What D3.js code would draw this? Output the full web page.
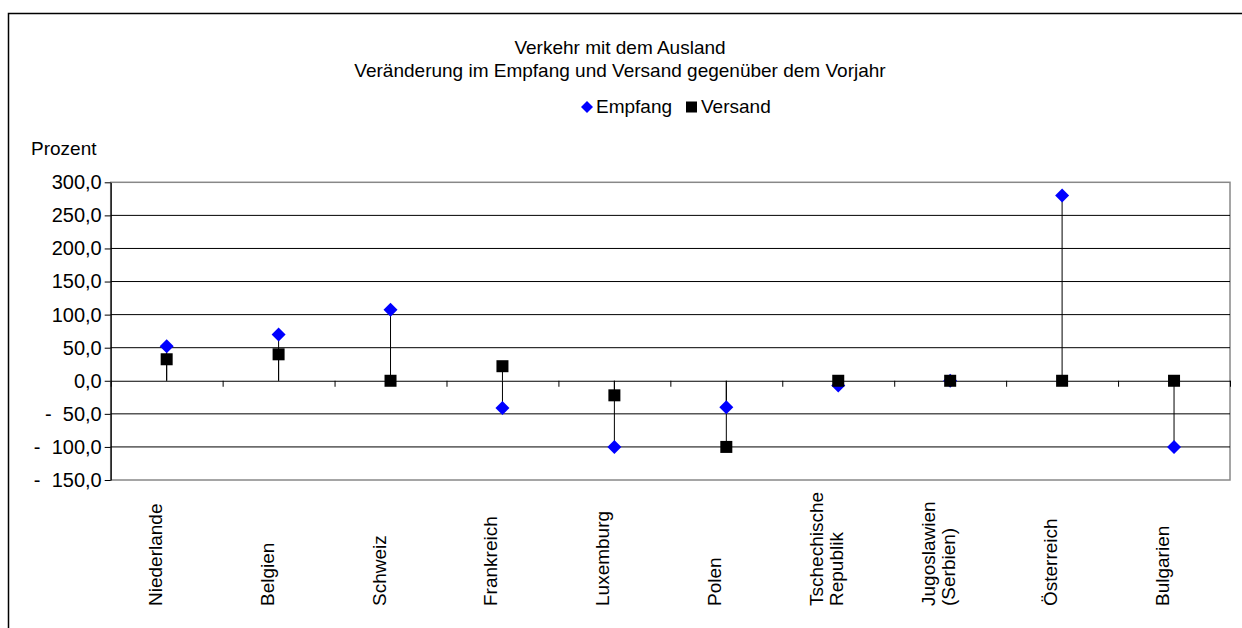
<!DOCTYPE html>
<html>
<head>
<meta charset="utf-8">
<script src="https://cdn.jsdelivr.net/npm/d3@7"></script>
<style>
  html, body { margin: 0; padding: 0; background: #fff; }
  svg { display: block; font-family: "Liberation Sans", Arial, sans-serif; }
</style>
</head>
<body>
<svg id="chart" width="1242" height="628"></svg>
<script>
// ---- data ----
const categories = ["Niederlande", "Belgien", "Schweiz", "Frankreich", "Luxemburg", "Polen",
  "Tschechische\nRepublik", "Jugoslawien\n(Serbien)", "Österreich", "Bulgarien"];
const empfang = [52, 70, 107.5, -41, -100, -40, -7, 0, 280, -100];
const versand = [32.5, 40, 0, 22, -22, -100, 0, 0, 0, 0];
const yTicks = [300, 250, 200, 150, 100, 50, 0, -50, -100, -150];
const seriesNames = ["Empfang", "Versand"];
const titleLines = ["Verkehr mit dem Ausland", "Veränderung im Empfang und Versand gegenüber dem Vorjahr"];
const yAxisTitle = "Prozent";

// ---- layout ----
const svg = d3.select("#chart");
const plot = { left: 110.7, right: 1230, top: 182.3, bottom: 480 };

const x = d3.scaleBand().domain(categories).range([plot.left, plot.right]).padding(0);
const xb = d3.scaleLinear().domain([0, categories.length]).range([plot.left, plot.right]);
const y = d3.scaleLinear().domain([-150, 300]).range([plot.bottom, plot.top]);
const cx = c => x(c) + x.bandwidth() / 2;
const diamond = r => `M0,${-r}L${r},0L0,${r}L${-r},0Z`;

// outer frame
svg.append("rect").attr("x", 8.5).attr("y", 13.5).attr("width", 1260).attr("height", 640)
  .attr("fill", "none").attr("stroke", "#000").attr("stroke-width", 1.5);

// titles
svg.selectAll("text.title").data(titleLines).join("text")
  .attr("class", "title")
  .attr("x", 620).attr("y", (d, i) => 54 + i * 23)
  .attr("text-anchor", "middle").attr("font-size", 19).attr("fill", "#000")
  .text(d => d);

// legend
const legend = svg.append("g");
legend.append("path").attr("d", diamond(6))
  .attr("transform", "translate(587,107)")
  .attr("fill", "#0000ff");
legend.append("text").attr("x", 596).attr("y", 113).attr("font-size", 19).text(seriesNames[0]);
legend.append("rect").attr("x", 686).attr("y", 101.5).attr("width", 11).attr("height", 11).attr("fill", "#000");
legend.append("text").attr("x", 701).attr("y", 113).attr("font-size", 19).text(seriesNames[1]);

// y axis title
svg.append("text").attr("x", 31).attr("y", 155).attr("font-size", 19).text(yAxisTitle);

// plot border
svg.append("rect").attr("x", plot.left).attr("y", plot.top)
  .attr("width", plot.right - plot.left).attr("height", plot.bottom - plot.top)
  .attr("fill", "none").attr("stroke", "#888").attr("stroke-width", 1.5);

// gridlines
svg.append("g").selectAll("line").data(yTicks.filter(v => v !== 300 && v !== -150 && v !== 0)).join("line")
  .attr("x1", plot.left).attr("x2", plot.right)
  .attr("y1", d => y(d)).attr("y2", d => y(d))
  .attr("stroke", "#000").attr("stroke-width", 1);

// y axis
const fmtNum = d3.format(".1f");
const fmt = v => {
  const s = fmtNum(Math.abs(v)).replace(".", ",");
  return v < 0 ? "-\u00a0\u00a0" + s : s;
};
const yAxis = svg.append("g").attr("transform", `translate(${plot.left},0)`)
  .call(d3.axisLeft(y).tickValues(yTicks).tickSize(6).tickSizeOuter(0).tickPadding(3).tickFormat(fmt));
yAxis.select(".domain").attr("stroke", "#000").attr("stroke-width", 1.2);
yAxis.selectAll(".tick line").attr("stroke", "#000");
yAxis.selectAll(".tick text").attr("font-size", 20).attr("font-family", "Liberation Sans, Arial, sans-serif").attr("fill", "#000");

// x axis (category axis crossing at 0)
const xAxis = svg.append("g").attr("transform", `translate(0,${y(0)})`)
  .call(d3.axisBottom(xb).tickValues(d3.range(categories.length + 1)).tickSize(6).tickSizeOuter(0).tickFormat(""));
xAxis.select(".domain").attr("stroke", "#000").attr("stroke-width", 1.2);
xAxis.selectAll(".tick line").attr("stroke", "#000");

// category labels (rotated, reading upward, bottom-aligned)
const labels = svg.append("g").selectAll("text").data(categories).join("text")
  .attr("font-size", 19).attr("fill", "#000")
  .attr("text-anchor", "start")
  .attr("transform", "rotate(-90)");
labels.each(function (d) {
  const lines = d.split("\n");
  const n = lines.length;
  const c = cx(d);
  d3.select(this).selectAll("tspan").data(lines).join("tspan")
    .attr("x", -606)
    .attr("y", (l, i) => c - 5 + (i - (n - 1) / 2) * 19.5)
    .text(l => l);
});

// drop lines
const drops = svg.append("g");
[empfang, versand].forEach(series => {
  drops.selectAll(null).data(categories).join("line")
    .attr("x1", d => cx(d)).attr("x2", d => cx(d))
    .attr("y1", y(0)).attr("y2", (d, i) => y(series[i]))
    .attr("stroke", "#000").attr("stroke-width", 1);
});

// Empfang markers (diamonds)
svg.append("g").selectAll("path").data(categories).join("path")
  .attr("d", diamond(7))
  .attr("transform", (d, i) => `translate(${cx(d)},${y(empfang[i])})`)
  .attr("fill", "#0000ff");

// Versand markers (squares)
svg.append("g").selectAll("rect").data(categories).join("rect")
  .attr("x", d => cx(d) - 6).attr("y", (d, i) => y(versand[i]) - 6)
  .attr("width", 12).attr("height", 12)
  .attr("fill", "#000");
</script>
</body>
</html>
